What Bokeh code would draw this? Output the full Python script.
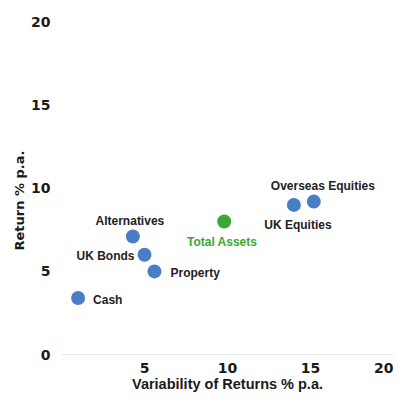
from bokeh.plotting import figure
from bokeh.models import ColumnDataSource, Range1d, FixedTicker, Title
from bokeh.core.properties import value
from bokeh.embed import file_html
from bokeh.resources import INLINE

# Data
names = ["Cash", "Alternatives", "UK Bonds", "Property", "Total Assets", "UK Equities", "Overseas Equities"]
variability = [1.0, 4.3, 5.0, 5.6, 9.8, 14.0, 15.2]
returns = [3.4, 7.1, 6.0, 5.0, 8.0, 9.0, 9.2]
x_ticks = [5, 10, 15, 20]
y_ticks = [0, 5, 10, 15, 20]

# Styling (per label placement)
colors = ["#4a7dc4", "#4a7dc4", "#4a7dc4", "#4a7dc4", "#3aa833", "#4a7dc4", "#4a7dc4"]
text_colors = ["#222222", "#222222", "#222222", "#222222", "#3aa833", "#222222", "#222222"]
x_off = [15, -3, -10, 16, -2, 4, 9]
y_off = [2, -16, 1, 2, 20, 20, -16]
aligns = ["left", "center", "right", "left", "center", "center", "center"]

src = ColumnDataSource(dict(x=variability, y=returns, name=names, color=colors,
                            tcolor=text_colors, xo=x_off, yo=y_off, al=aligns))

p = figure(width=393, height=394, output_backend="svg", toolbar_location=None,
           x_range=Range1d(0, 20), y_range=Range1d(0, 21.3),
           min_border_left=61, min_border_right=0, min_border_top=0, min_border_bottom=34)

p.scatter("x", "y", source=src, size=14, color="color", line_color=None)
p.text("x", "y", text="name", source=src, x_offset="xo", y_offset="yo",
       text_align="al", text_baseline="middle", text_color="tcolor",
       text_font=value("Liberation Sans"), text_font_style="bold", text_font_size="12px")

p.xgrid.visible = False
p.ygrid.visible = False
p.outline_line_color = None

p.xaxis.ticker = FixedTicker(ticks=x_ticks)
p.yaxis.ticker = FixedTicker(ticks=y_ticks)
for ax in (p.xaxis, p.yaxis):
    ax.major_tick_line_color = None
    ax.minor_tick_line_color = None
    ax.major_label_text_font = "DejaVu Sans"
    ax.major_label_text_font_style = "bold"
    ax.major_label_text_font_size = "14px"
    ax.major_label_text_color = "#1a1a1a"

p.xaxis.axis_line_color = "#e8e8e8"
p.yaxis.axis_line_color = None
p.xaxis.major_label_standoff = 2
p.yaxis.major_label_standoff = 5
p.xaxis.axis_label = "Variability of Returns % p.a."
p.xaxis.axis_label_text_font = "Liberation Sans"
p.xaxis.axis_label_text_font_style = "bold"
p.xaxis.axis_label_text_color = "#1a1a1a"
p.xaxis.axis_label_text_font_size = "14.5px"
p.xaxis.axis_label_standoff = 0

ytitle = Title(text="Return % p.a.", align="left", offset=104,
               text_font="DejaVu Sans", text_font_style="bold",
               text_font_size="13px", text_color="#1a1a1a", standoff=4)
p.add_layout(ytitle, "left")

open("out.html", "w").write(file_html(p, INLINE))
